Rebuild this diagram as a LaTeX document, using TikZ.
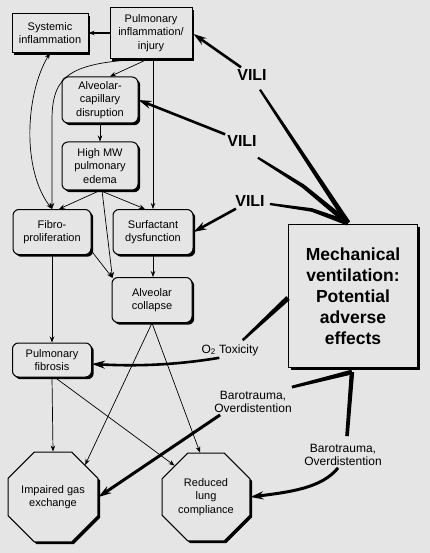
\documentclass[tikz,border=0pt]{standalone}
\usepackage{fontspec}
\setmainfont{Liberation Sans}
\usetikzlibrary{shapes.geometric,shadows,arrows.meta,calc}
\definecolor{bg}{HTML}{E5E5E5}
% tapered thick stroke from #1 (half width #3) to #2 (half width #4)
\newcommand\taperseg[4]{%
  \fill ($(#1)!#3!90:(#2)$) -- ($(#2)!#4!-90:(#1)$) -- ($(#2)!#4!90:(#1)$)
        -- ($(#1)!#3!-90:(#2)$) -- cycle;}
\begin{document}
\begin{tikzpicture}[x=1pt,y=-1pt,
  box/.style={draw, line width=1pt, fill=bg, align=center, inner sep=1pt,
    font=\fontsize{11}{13.5}\selectfont,
    drop shadow={shadow xshift=2.2pt, shadow yshift=-2.2pt, fill=black, opacity=1}},
  rbox/.style={box, rounded corners=6pt},
  oct/.style={box, regular polygon, regular polygon sides=8,
    minimum size=97pt, inner sep=0pt},
  thinarr/.style={line width=0.7pt, -{Stealth[length=6pt,width=4.5pt]}},
  thinboth/.style={line width=0.7pt, {Stealth[length=6pt,width=4.5pt]}-{Stealth[length=6pt,width=4.5pt]}},
  viliarr/.style={line width=2.6pt, -{Stealth[length=13pt,width=8pt]}},
  lab/.style={font=\fontsize{12}{13}\selectfont, align=center, inner sep=2pt},
  vlab/.style={font=\bfseries\fontsize{16}{16}\selectfont, inner sep=2pt}
]
\useasboundingbox (0,0) rectangle (430,553);
\fill[bg] (0,0) rectangle (430,553);

% boxes
\node[box, minimum width=76pt, minimum height=39pt] (sys) at (50,33) {Systemic\\inflammation};
\node[box, minimum width=82pt, minimum height=51pt] (pulm) at (151,33) {Pulmonary\\inflammation/\\injury};
\node[rbox, minimum width=76pt, minimum height=46pt] (alv) at (100,100) {Alveolar-\\capillary\\disruption};
\node[rbox, minimum width=76pt, minimum height=48pt] (hmw) at (100,166) {High MW\\pulmonary\\edema};
\node[rbox, minimum width=78pt, minimum height=45pt] (fib) at (52,232) {Fibro-\\proliferation};
\node[rbox, minimum width=80pt, minimum height=45pt] (surf) at (153,232) {Surfactant\\dysfunction};
\node[rbox, minimum width=80pt, minimum height=45pt] (coll) at (152,300) {Alveolar\\collapse};
\node[rbox, minimum width=79pt, minimum height=34pt] (pf) at (52,360) {Pulmonary\\fibrosis};
\node[box, minimum width=129pt, minimum height=143pt,
  font=\bfseries\fontsize{17.5}{21}\selectfont] (mv) at (353,296)
  {Mechanical\\ventilation:\\Potential\\adverse\\effects};
\node[oct] (imp) at (53,497) {Impaired gas\\exchange};
\node[oct, minimum size=95pt] (red) at (206,497) {Reduced\\lung\\compliance};

% labels
\node[vlab] (v1) at (252,75) {VILI};
\node[vlab] (v2) at (242,141) {VILI};
\node[vlab] (v3) at (250,201) {VILI};
\node[lab] (o2) at (230,350) {O\textsubscript{2} Toxicity};
\node[lab] (b1) at (253,402) {Barotrauma,\\Overdistention};
\node[lab] (b2) at (343,455) {Barotrauma,\\Overdistention};

% named points of the thick strokes
\coordinate (c) at (348,223);
\coordinate (v1s) at ($(v1.south)+(8,7)$);
\coordinate (v2s) at ($(v2.south east)+(-1,9)$);
\coordinate (v2m) at (303,186);
\coordinate (v3s) at ($(v3.east)+(3,3)$);
\coordinate (v3m) at (312,210);
\coordinate (mvw) at ($(mv.west)+(0,2)$);
\coordinate (o2s) at ($(o2.north east)+(-18,-2)$);
\coordinate (o2t) at ($(o2.south west)+(20,0)$);
\coordinate (mvs) at ($(mv.south)+(-1,4)$);
\coordinate (b1s) at ($(b1.north east)+(-2,-2)$);
\coordinate (b2s) at ($(b2.north)+(4,-6)$);

% thin connectors
\draw[thinarr, line width=1.3pt] (pulm.west) -- (sys.east);
\draw[thinboth] (sys.south) .. controls (25,95) and (22,170) .. (fib.north);
\draw[thinarr] ($(pulm.south)+(-3,0)$) .. controls (70,62) and (52,75) .. (52,120) -- (fib.north);
\draw[thinarr] ($(pulm.south)+(-3,0)$) -- ($(alv.north)+(10,0)$);
\draw[thinarr] (pulm.south -| surf.north) -- (surf.north);
\draw[thinarr] (alv.south) -- (hmw.north);
\draw[thinarr] (hmw.south) -- ($(fib.north)+(7,0)$);
\draw[thinarr] (hmw.south) -- ($(surf.north)+(-8,0)$);
\draw[thinarr] ($(hmw.south)+(2,0)$) -- ($(coll.north west)+(1,1)$);
\draw[thinarr] ($(fib.south east)+(0,-4)$) -- ($(coll.north west)+(1,1)$);
\draw[thinarr] (surf.south) -- (surf.south |- coll.north);
\draw[thinarr] (fib.south) -- (pf.north);
\draw[thinarr] (pf.south) -- (imp.north);
\draw[thinarr] ($(pf.south)+(3,0)$) -- (red.north west);
\draw[thinarr] (coll.south) -- (imp.north east);
\draw[thinarr] (coll.south) -- ($(red.north)+(-6,0)$);

% VILI connectors (tapered toward the ventilator box)
\taperseg{v1s}{c}{1.1pt}{2.6pt}
\draw[viliarr] (v1) -- ($(pulm.east)+(1,1)$);
\taperseg{v2s}{v2m}{1.1pt}{1.9pt}
\taperseg{v2m}{c}{1.9pt}{2.6pt}
\fill (v2m) circle (1.9pt);
\draw[viliarr] (v2) -- (alv.east);
\taperseg{v3s}{v3m}{1.1pt}{1.8pt}
\taperseg{v3m}{c}{1.8pt}{2.6pt}
\fill (v3m) circle (1.8pt);
\draw[viliarr] (v3) -- (surf.east);

% O2 toxicity
\taperseg{o2s}{mvw}{1.2pt}{2.6pt}
\draw[viliarr] (o2t) .. controls (170,366) and (130,366) .. ($(pf.east)+(0,4)$);

% Barotrauma
\taperseg{b1s}{mvs}{1.4pt}{2.4pt}
\draw[viliarr, line width=3pt] ($(b1.south west)+(8,0)$) -- (imp.east);
\taperseg{b2s}{mvs}{1.8pt}{2.2pt}
\draw[viliarr, line width=3pt] ($(b2.south)+(-5,0)$) .. controls (322,488) and (290,492) .. (red.east);
\end{tikzpicture}
\end{document}
